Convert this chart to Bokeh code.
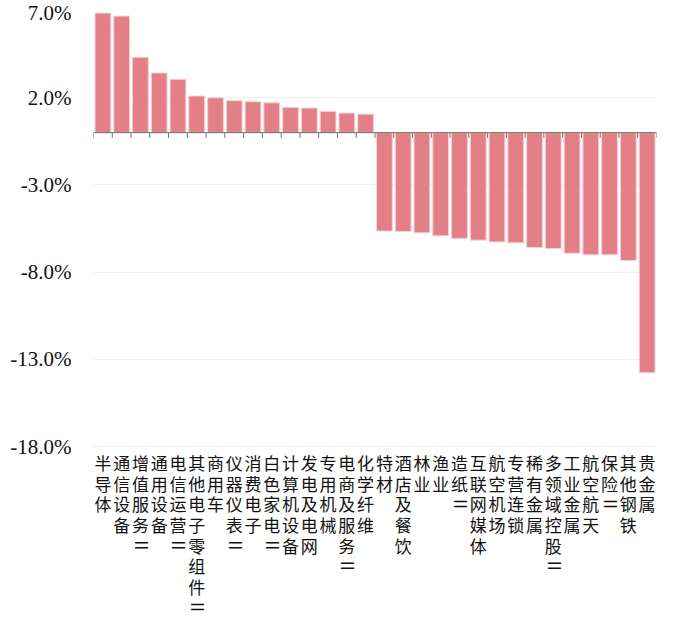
import math
from bokeh.plotting import figure
from bokeh.models import (ColumnDataSource, Span, FixedTicker,
                          PrintfTickFormatter, Range1d)
from bokeh.core.properties import value
from bokeh.embed import file_html
from bokeh.resources import INLINE

categories = ["半导体", "通信设备", "增值服务Ⅱ", "通用设备", "电信运营Ⅱ",
              "其他电子零组件Ⅱ", "商用车", "仪器仪表Ⅱ", "消费电子", "白色家电Ⅱ",
              "计算机设备", "发电及电网", "专用机械", "电商及服务Ⅱ", "化学纤维",
              "特材", "酒店及餐饮", "林业", "渔业", "造纸Ⅱ",
              "互联网媒体", "航空机场", "专营连锁", "稀有金属", "多领域控股Ⅱ",
              "工业金属", "航空航天", "保险Ⅱ", "其他钢铁", "贵金属"]
values = [6.85, 6.68, 4.32, 3.42, 3.06,
          2.10, 2.00, 1.83, 1.77, 1.71,
          1.45, 1.41, 1.22, 1.12, 1.06,
          -5.64, -5.66, -5.74, -5.91, -6.06,
          -6.16, -6.26, -6.31, -6.58, -6.64,
          -6.91, -7.00, -7.00, -7.33, -13.76]
y_ticks = [7, 2, -3, -8, -13, -18]

n = len(categories)
xs = list(range(n))

# the frame extends to the bottom of the canvas so the stacked labels fit inside it
y_bottom = -27.9

p = figure(width=677, height=619, output_backend="svg", toolbar_location=None,
           x_range=Range1d(-0.5, n - 0.5), y_range=Range1d(y_bottom, y_ticks[0]),
           x_axis_location=None,
           min_border_left=93, min_border_right=21, min_border_top=10,
           min_border_bottom=0)
p.outline_line_color = None
p.background_fill_color = "white"
p.border_fill_color = "white"

p.xgrid.grid_line_color = None
p.ygrid.ticker = FixedTicker(ticks=y_ticks)
p.ygrid.grid_line_color = "#efeff2"
p.ygrid.grid_line_width = 1

ax = p.yaxis[0]
ax.ticker = FixedTicker(ticks=y_ticks)
ax.formatter = PrintfTickFormatter(format="%.1f%%")
ax.axis_line_color = None
ax.major_tick_line_color = None
ax.minor_tick_line_color = None
ax.major_label_standoff = 16
ax.major_label_text_font = "Liberation Serif"
ax.major_label_text_font_size = "21px"
ax.major_label_text_color = "#111111"

src = ColumnDataSource(dict(x=xs, top=values))
p.vbar(x="x", top="top", bottom=0, width=0.84, source=src,
       fill_color="#e37f87", line_color="#f6d0d3", line_width=1)

p.add_layout(Span(location=0, dimension="width", line_color="#6E7079", line_width=1))
bounds = [i - 0.5 for i in range(n + 1)]
p.segment(x0=bounds, y0=[0] * len(bounds), x1=bounds, y1=[-0.3] * len(bounds),
          line_color="#6E7079", line_width=1)

lx, ly, lt, lo, la = [], [], [], [], []
for i, name in enumerate(categories):
    for j, ch in enumerate(name):
        lx.append(i)
        ly.append(y_ticks[-1])
        lt.append(ch)
        lo.append(16 + j * 20.6)
        la.append(math.pi / 2 if ch == "Ⅱ" else 0.0)
lsrc = ColumnDataSource(dict(x=lx, y=ly, text=lt, dy=lo, angle=la))
p.text(x="x", y="y", text="text", y_offset="dy", angle="angle", source=lsrc,
       text_align="center", text_baseline="middle",
       text_font=value("Noto Sans CJK SC"), text_font_size="17px",
       text_color="#111111")

open("out.html", "w").write(file_html(p, INLINE))
